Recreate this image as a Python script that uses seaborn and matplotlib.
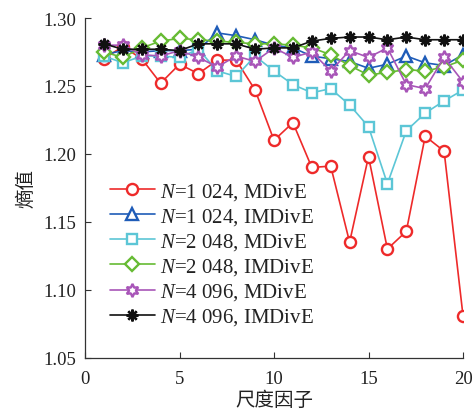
import numpy as np
import pandas as pd
import matplotlib
matplotlib.use("Agg")
import matplotlib.pyplot as plt
import seaborn as sns

scale = list(range(1, 21))

n1024_mdive = [1.270, 1.279, 1.270, 1.252, 1.266, 1.259, 1.269, 1.269, 1.247, 1.210,
               1.223, 1.190, 1.191, 1.135, 1.198, 1.130, 1.143, 1.213, 1.202, 1.081]
n1024_imdive = [1.273, 1.276, 1.275, 1.276, 1.276, 1.277, 1.289, 1.287, 1.284, 1.280,
                1.278, 1.272, 1.270, 1.268, 1.263, 1.266, 1.272, 1.267, 1.265, 1.273]
n2048_mdive = [1.272, 1.267, 1.272, 1.272, 1.271, 1.277, 1.261, 1.257, 1.272, 1.261,
               1.251, 1.245, 1.248, 1.236, 1.220, 1.178, 1.217, 1.230, 1.239, 1.247]
n2048_imdive = [1.275, 1.271, 1.278, 1.283, 1.285, 1.284, 1.283, 1.282, 1.281, 1.281,
                1.280, 1.278, 1.273, 1.265, 1.258, 1.260, 1.262, 1.261, 1.264, 1.269]
n4096_mdive = [1.280, 1.280, 1.273, 1.272, 1.276, 1.271, 1.264, 1.272, 1.268, 1.278,
               1.271, 1.275, 1.261, 1.276, 1.271, 1.278, 1.251, 1.248, 1.271, 1.253]
n4096_imdive = [1.281, 1.277, 1.277, 1.277, 1.276, 1.281, 1.281, 1.281, 1.277, 1.278,
                1.278, 1.283, 1.285, 1.286, 1.286, 1.284, 1.286, 1.284, 1.284, 1.284]

labels = ["$N$=1 024, MDivE", "$N$=1 024, IMDivE", "$N$=2 048, MDivE",
          "$N$=2 048, IMDivE", "$N$=4 096, MDivE", "$N$=4 096, IMDivE"]
series = [n1024_mdive, n1024_imdive, n2048_mdive, n2048_imdive, n4096_mdive, n4096_imdive]
colors = ["#ee2a2a", "#1f5cb8", "#5cc6d6", "#66bb33", "#a855b8", "#111111"]
markers = ["o", "^", "s", "D", (6, 1, 0), (8, 2, 0)]
msizes = [8, 8.5, 7.5, 7, 9.5, 8.5]

x_ticks = [0, 5, 10, 15, 20]
y_ticks = [1.05, 1.10, 1.15, 1.20, 1.25, 1.30]

sns.set_theme(style="ticks")
plt.rcParams["font.family"] = ["Liberation Serif", "Noto Sans CJK SC"]
plt.rcParams["mathtext.fontset"] = "custom"
plt.rcParams["mathtext.it"] = "Liberation Serif:italic"
plt.rcParams["mathtext.rm"] = "Liberation Serif"

fig = plt.figure(figsize=(4.73, 4.14), dpi=100)
ax = fig.add_axes([85 / 473, 1 - 358.7 / 414, (463 - 85) / 473, (358.7 - 19) / 414])

for vals, lab, c, m, ms in zip(series, labels, colors, markers, msizes):
    df = pd.DataFrame({"scale": scale, "val": vals})
    sns.lineplot(data=df, x="scale", y="val", ax=ax, color=c, marker=m, markersize=ms,
                 markerfacecolor="white", markeredgecolor=c, markeredgewidth=1.7,
                 linewidth=1.2, label=lab)

ax.set_xlim(0, 20)
ax.set_ylim(1.05, 1.30)
ax.set_xticks(x_ticks)
ax.set_yticks(y_ticks)
ax.set_yticklabels([f"{v:.2f}" for v in y_ticks])
ax.tick_params(direction="in", length=4, width=0.8, labelsize=13.5, color="#333333",
               labelcolor="#222222")
ax.tick_params(axis="x", pad=9)
ax.tick_params(axis="y", pad=6)
for s in ["top", "right"]:
    ax.spines[s].set_visible(False)
for s in ["left", "bottom"]:
    ax.spines[s].set_linewidth(0.9)
    ax.spines[s].set_color("#333333")

ax.set_xlabel("尺度因子", family=["Noto Sans CJK SC"], fontsize=14, color="#222222", labelpad=1)
ax.set_ylabel("熵值", family=["Noto Sans CJK SC"], fontsize=14, color="#222222", labelpad=5)

leg = ax.legend(loc="upper left", bbox_to_anchor=(0.066, 0.52), frameon=False,
                fontsize=15, handlelength=2.15, handletextpad=0.25, labelspacing=0.2,
                borderaxespad=0, borderpad=0)
for t in leg.get_texts():
    t.set_color("#222222")

fig.savefig("out.png", dpi=100)
